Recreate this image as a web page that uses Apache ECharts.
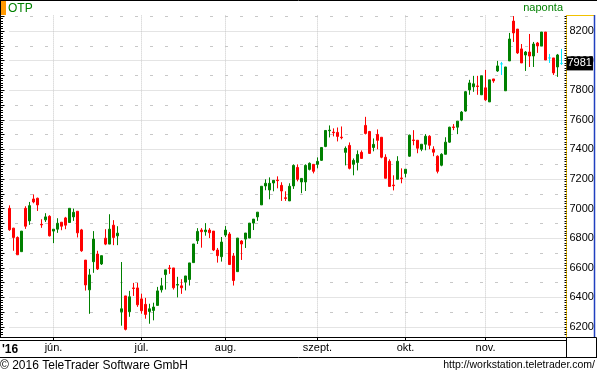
<!DOCTYPE html>
<html><head><meta charset="utf-8">
<script src="https://cdn.jsdelivr.net/npm/echarts@6/dist/echarts.min.js"></script>
<style>html,body{margin:0;padding:0;background:#fff}#c{width:597px;height:375px}</style>
</head><body><div id="c"></div>
<script>
const dates = [
'2016-05-17','2016-05-18','2016-05-19','2016-05-20','2016-05-23','2016-05-24','2016-05-25','2016-05-26','2016-05-27','2016-05-30','2016-05-31',
'2016-06-01','2016-06-02','2016-06-03','2016-06-06','2016-06-07','2016-06-08','2016-06-09','2016-06-10','2016-06-13','2016-06-14','2016-06-15','2016-06-16','2016-06-17','2016-06-20','2016-06-21','2016-06-22','2016-06-23','2016-06-24','2016-06-27','2016-06-28','2016-06-29','2016-06-30',
'2016-07-01','2016-07-04','2016-07-05','2016-07-06','2016-07-07','2016-07-08','2016-07-11','2016-07-12','2016-07-13','2016-07-14','2016-07-15','2016-07-18','2016-07-19','2016-07-20','2016-07-21','2016-07-22','2016-07-25','2016-07-26','2016-07-27','2016-07-28','2016-07-29',
'2016-08-01','2016-08-02','2016-08-03','2016-08-04','2016-08-05','2016-08-08','2016-08-09','2016-08-10','2016-08-11','2016-08-12','2016-08-15','2016-08-16','2016-08-17','2016-08-18','2016-08-19','2016-08-22','2016-08-23','2016-08-24','2016-08-25','2016-08-26','2016-08-29','2016-08-30','2016-08-31',
'2016-09-01','2016-09-02','2016-09-05','2016-09-06','2016-09-07','2016-09-08','2016-09-09','2016-09-12','2016-09-13','2016-09-14','2016-09-15','2016-09-16','2016-09-19','2016-09-20','2016-09-21','2016-09-22','2016-09-23','2016-09-26','2016-09-27','2016-09-28','2016-09-29','2016-09-30',
'2016-10-03','2016-10-04','2016-10-05','2016-10-06','2016-10-07','2016-10-10','2016-10-11','2016-10-12','2016-10-13','2016-10-14','2016-10-17','2016-10-18','2016-10-19','2016-10-20','2016-10-21','2016-10-24','2016-10-25','2016-10-26','2016-10-27','2016-10-28',
'2016-11-02','2016-11-03','2016-11-04','2016-11-07','2016-11-08','2016-11-09','2016-11-10','2016-11-11','2016-11-14','2016-11-15','2016-11-16','2016-11-17','2016-11-18','2016-11-21','2016-11-22','2016-11-23','2016-11-24','2016-11-25','2016-11-28','2016-11-29'
];
const opens = [7002,6868,6805,6709,7002,6917,7065,7070,6894,6924,
 6948,6848,6861,6908,6937,6906,6944,6982,6856,6652,
 6451,6641,6693,6626,6800,6760,6888,6816,6303,6410,
 6303,6464,6464,6390,6353,6305,6312,6346,6451,6554,
 6599,6599,6483,6478,6503,6521,6635,6783,6855,6844,
 6855,6848,6720,6675,6821,6828,6680,6574,6781,6794,
 6801,6902,6944,7025,7153,7126,7173,7193,7157,7073,
 7052,7153,7278,7180,7180,7265,7299,7299,7326,7420,
 7526,7517,7515,7483,7380,7427,7299,7312,7380,7562,
 7521,7413,7501,7482,7347,7320,7159,7198,7207,7238,
 7354,7464,7462,7401,7435,7489,7401,7354,7293,7367,
 7449,7552,7550,7598,7659,7802,7823,7829,7769,7816,
 7721,7876,7930,7978,7796,7998,8267,8213,8079,8038,
 8058,8031,8119,8099,8193,8018,8018,7957,7981];
const closes = [6857,6805,6688,6848,6881,7020,7045,7025,6890,6944,
 6816,6861,6901,6881,6888,7002,6975,6836,6715,6484,
 6552,6794,6592,6682,6760,6861,6805,6834,6323,6184,
 6404,6460,6350,6310,6285,6323,6335,6444,6478,6586,
 6595,6465,6487,6465,6545,6633,6761,6846,6844,6855,
 6837,6720,6682,6774,6855,6622,6514,6801,6761,6835,
 6902,6929,6976,7151,7171,7171,7191,7189,7119,7069,
 7151,7292,7198,7204,7292,7306,7252,7319,7413,7528,
 7530,7513,7488,7479,7407,7272,7326,7366,7339,7508,
 7373,7434,7461,7347,7205,7150,7155,7320,7203,7266,
 7496,7460,7408,7435,7489,7428,7381,7252,7367,7449,
 7550,7548,7591,7652,7790,7849,7843,7825,7897,7735,
 7870,7863,7964,7978,7957,8146,8187,8052,7984,8058,
 8031,8112,8099,8193,8004,8018,7917,8038,7981];
const lows = [6850,6715,6688,6709,6863,6890,7036,6984,6870,6910,
 6812,6767,6836,6854,6861,6906,6917,6805,6708,6446,
 6289,6566,6585,6619,6753,6760,6753,6753,6209,6177,
 6269,6410,6336,6290,6256,6222,6245,6346,6433,6453,
 6559,6453,6400,6424,6447,6480,6635,6761,6736,6817,
 6801,6713,6635,6642,6808,6622,6480,6574,6653,6734,
 6801,6855,6917,7025,7124,7063,7117,7137,7052,7052,
 7052,7133,7184,7104,7119,7258,7238,7272,7322,7415,
 7481,7488,7454,7468,7292,7265,7225,7258,7339,7501,
 7370,7387,7401,7340,7205,7150,7123,7198,7171,7211,
 7350,7428,7374,7388,7394,7401,7354,7238,7286,7367,
 7445,7530,7503,7591,7655,7769,7789,7769,7769,7728,
 7721,7850,7924,7903,7796,7998,8126,8045,7984,7930,
 7957,7957,8052,8099,8004,7984,7903,7890,7971];
const highs = [7022,6870,6812,6848,7016,7045,7096,7074,6928,6969,
 6955,6861,6935,6908,6944,7002,7000,6982,6863,6652,
 6592,6848,6715,6682,6861,6962,6922,6881,6639,6410,
 6444,6498,6498,6425,6397,6357,6364,6471,6532,6586,
 6619,6599,6539,6523,6545,6633,6761,6868,6868,6902,
 6868,6848,6734,6808,6882,6841,6700,6801,6787,6835,
 6902,6929,6976,7151,7198,7211,7191,7218,7178,7117,
 7171,7299,7299,7204,7299,7312,7299,7346,7415,7530,
 7562,7542,7548,7555,7420,7447,7339,7393,7393,7620,
 7525,7474,7535,7482,7367,7333,7225,7354,7272,7266,
 7500,7530,7462,7435,7503,7496,7421,7360,7374,7482,
 7553,7571,7591,7659,7795,7870,7897,7897,7897,7937,
 7870,7876,7998,7991,7957,8187,8301,8213,8112,8065,
 8180,8126,8126,8193,8193,8045,8018,8045,8079];
const monthLabels = {'06':'jún.','07':'júl.','08':'aug.','09':'szept.','10':'okt.','11':'nov.'};
const yearLabel = "'16";
const titleText = 'OTP';
const periodText = 'naponta';
const footerLeft = '© 2016 TeleTrader Software GmbH';
const footerRight = 'http://workstation.teletrader.com/';

const cats = dates.concat(['']);
const candles = dates.map((d, i) => [opens[i], closes[i], lows[i], highs[i]]);
const lastClose = closes[closes.length - 1];
const isMonthStart = (i) => i > 0 && i < dates.length && dates[i].slice(5, 7) !== dates[i - 1].slice(5, 7);
const FF = '"Liberation Sans", Arial, sans-serif';
const Y0 = 6000, Y1 = 8400;
const GRID = '#c8c8c8';

const chart = echarts.init(document.getElementById('c'), null, {renderer: 'canvas'});
chart.setOption({
  animation: false,
  backgroundColor: '#fff',
  grid: {left: 9.5, right: 31.5, top: 1.4, bottom: 18.4, containLabel: false},
  xAxis: [
    {type: 'category', data: cats, boundaryGap: false, position: 'top',
     axisLine: {show: false}, axisTick: {show: false}, axisLabel: {show: false},
     splitLine: {show: true, interval: (i) => isMonthStart(i), lineStyle: {color: GRID, type: [1, 1], width: 1}}},
    {type: 'category', data: cats, boundaryGap: false, position: 'bottom', offset: -19.1, z: 60,
     axisLine: {onZero: false, lineStyle: {color: '#000', width: 1}},
     axisTick: {show: true, interval: (i) => isMonthStart(i), length: 3, lineStyle: {color: '#000'}},
     axisLabel: {interval: (i) => isMonthStart(i), formatter: (v) => monthLabels[v.slice(5, 7)] || '',
       color: '#000', fontSize: 11, margin: 5, fontFamily: FF},
     splitLine: {show: false}}
  ],
  yAxis: [
    {type: 'value', position: 'right', offset: 1, min: Y0, max: Y1, interval: 200,
     axisLine: {show: true, lineStyle: {color: '#f2c200', width: 1}},
     axisTick: {show: false},
     axisLabel: {show: true, color: '#000', fontSize: 11, margin: 3, showMinLabel: false, showMaxLabel: false,
       fontFamily: FF, formatter: (v) => String(v)},
     splitLine: {show: true, showMinLine: false, showMaxLine: false, lineStyle: {color: GRID, type: [1, 1], width: 1}},
     minorTick: {show: false, splitNumber: 2},
     minorSplitLine: {show: true, lineStyle: {color: GRID, type: [3, 12], dashOffset: 9.5, width: 1}}},
    {type: 'value', position: 'right', offset: 1, min: Y0, max: Y1, interval: 100,
     axisLine: {show: false}, axisLabel: {show: false}, splitLine: {show: false},
     axisTick: {show: true, inside: true, length: 2, lineStyle: {color: '#000'}},
     minorTick: {show: true, splitNumber: 6, length: 2, lineStyle: {color: '#000'}}},
    {type: 'value', position: 'left', offset: 9, min: Y0, max: Y1, interval: 100,
     axisLine: {show: true, lineStyle: {color: '#000', width: 1}}, axisLabel: {show: false}, splitLine: {show: false},
     axisTick: {show: true, inside: true, length: 4, lineStyle: {color: '#000'}},
     minorTick: {show: true, splitNumber: 6, length: 2.5, lineStyle: {color: '#000'}}}
  ],
  series: [{
    type: 'candlestick', xAxisIndex: 0, yAxisIndex: 0, data: candles,
    barWidth: 2, clip: false,
    itemStyle: {color: '#008000', color0: '#ff0000', borderColor: '#008000', borderColor0: '#ff0000',
      borderColorDoji: '#00e8ff', borderWidth: 1},
    markLine: {
      silent: true, symbol: 'none', animation: false,
      lineStyle: {color: 'rgba(0,0,0,0)', width: 0},
      label: {show: true, position: 'end', distance: 1, formatter: String(lastClose),
        color: '#fff', backgroundColor: '#000', fontSize: 11, fontFamily: FF, padding: [2, 1, 1, 1]},
      data: [{yAxis: lastClose}]
    }
  }],
  graphic: [
    {type: 'rect', z: 50, shape: {x: 1, y: 1, width: 596, height: 14}, style: {fill: '#fff'}},
    {type: 'rect', z: 50, shape: {x: 0, y: 338, width: 566, height: 19}, style: {fill: '#fff'}},
    {type: 'rect', z: 50, shape: {x: 566.5, y: 337.5, width: 30, height: 20}, style: {fill: '#fff', stroke: '#000', lineWidth: 1}},
    {type: 'rect', z: 50, shape: {x: 0, y: 358, width: 597, height: 17}, style: {fill: '#fff'}},
    {type: 'line', z: 70, shape: {x1: 0, y1: 0.5, x2: 597, y2: 0.5}, style: {stroke: '#000', lineWidth: 1}},
    {type: 'line', z: 70, shape: {x1: 0, y1: 337.5, x2: 566, y2: 337.5}, style: {stroke: '#000', lineWidth: 1}},
    {type: 'line', z: 70, shape: {x1: 0, y1: 340.5, x2: 566, y2: 340.5}, style: {stroke: '#000', lineWidth: 1}},
    {type: 'line', z: 70, shape: {x1: 0, y1: 357.5, x2: 597, y2: 357.5}, style: {stroke: '#000', lineWidth: 1}},
    {type: 'line', z: 70, shape: {x1: 566, y1: 15.5, x2: 595, y2: 15.5}, style: {stroke: '#f2c200', lineWidth: 1}},
    {type: 'line', z: 70, shape: {x1: 594.5, y1: 15, x2: 594.5, y2: 337}, style: {stroke: '#2040c0', lineWidth: 1.5}},
    {type: 'rect', z: 70, shape: {x: 1, y: 1, width: 5, height: 14}, style: {fill: '#ff9900'}},
    {type: 'text', z: 70, style: {x: 8, y: 8.5, text: titleText, fill: '#008000', font: '12px ' + FF, textAlign: 'left', textVerticalAlign: 'middle', align: 'left', verticalAlign: 'middle'}},
    {type: 'text', z: 70, style: {x: 563, y: 8, text: periodText, fill: '#008000', font: '11px ' + FF, textAlign: 'right', textVerticalAlign: 'middle', align: 'right', verticalAlign: 'middle'}},
    {type: 'text', z: 70, style: {x: 2, y: 349.5, text: yearLabel, fill: '#000', font: 'bold 12px ' + FF, textAlign: 'left', textVerticalAlign: 'middle', align: 'left', verticalAlign: 'middle'}},
    {type: 'text', z: 70, style: {x: 0, y: 366, text: footerLeft, fill: '#000', font: '12px ' + FF, textAlign: 'left', textVerticalAlign: 'middle', align: 'left', verticalAlign: 'middle'}},
    {type: 'text', z: 70, style: {x: 595, y: 365.5, text: footerRight, fill: '#000', font: '10.5px ' + FF, textAlign: 'right', textVerticalAlign: 'middle', align: 'right', verticalAlign: 'middle'}}
  ]
});
</script>
</body></html>
